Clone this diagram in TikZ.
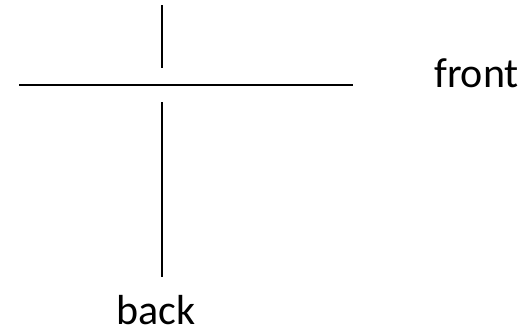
\documentclass[tikz,border=0pt]{standalone}
\usepackage{fontspec}
\setmainfont{Carlito}
\begin{document}
\begin{tikzpicture}[x=1pt,y=-1pt,
  ln/.style={line width=1.4pt,black},
  lbl/.style={inner sep=0pt,font=\fontsize{42}{48}\selectfont}]
\useasboundingbox (0,0) rectangle (525,333);
\coordinate (vt1) at (162,5);
\coordinate (vt2) at (162,68);
\coordinate (vb1) at (162,102);
\coordinate (vb2) at (162,277);
\coordinate (hl) at (19,85);
\coordinate (hr) at (353,85);
\draw[ln] (vt1) -- (vt2);
\draw[ln] (vb1) -- (vb2);
\draw[ln] (hl) -- (hr);
\node[lbl,anchor=base west] (front) at (434,87) {front};
\node[lbl,anchor=base west] (back) at (116,324) {back};
\end{tikzpicture}
\end{document}
